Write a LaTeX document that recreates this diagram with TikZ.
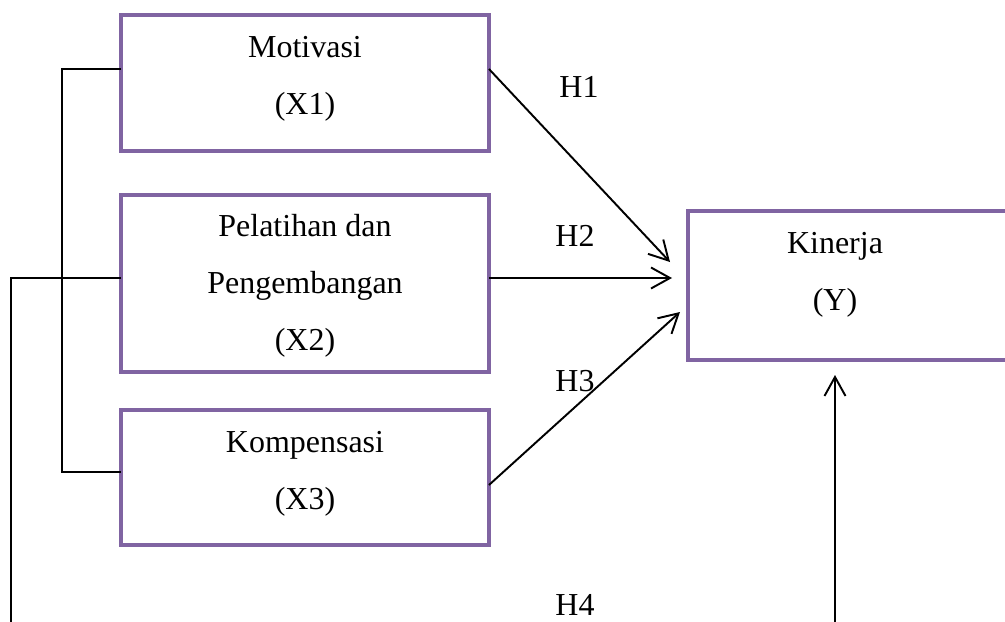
\documentclass[tikz,border=0pt]{standalone}
\usepackage{fontspec}
\setmainfont{Liberation Serif}
\usetikzlibrary{arrows.meta}
\definecolor{boxpurple}{HTML}{8064A2}

\begin{document}
\begin{tikzpicture}[x=0.02cm,y=-0.02cm,
		box/.style={draw=boxpurple, line width=2pt, minimum width=7.36cm, outer sep=0pt, align=center, font=\fontsize{18.2}{32.4}\selectfont, text depth=0.3cm},
		txt/.style={align=center, font=\fontsize{18.2}{32.4}\selectfont},
		link/.style={line width=1.1pt},
		arr/.style={line width=1.1pt, -{Straight Barb[length=0.38cm, width=0.42cm, line width=1.1pt]}}]
		\clip (0,0) rectangle (1005,622);
		\node (x1) at (305,83) [box, minimum height=2.72cm] {Motivasi\\(X1)};
		\node (x2) at (305,283.5) [box, minimum height=3.54cm, text depth=0.06cm] {Pelatihan dan\\Pengembangan\\(X2)};
		\node (x3) at (305,477.5) [box, minimum height=2.70cm] {Kompensasi\\(X3)};
		\node (y) at (858,285.5) [box, minimum width=6.8cm, minimum height=2.98cm] {};
		\node (yt) at (835,274.5) [txt] {Kinerja\\(Y)};
		
		\node (h1) at (579,87) [txt] {H1};
		\node (h2) at (575,236) [txt] {H2};
		\node (h3) at (575,381) [txt] {H3};
		\node (h4) at (575,605) [txt] {H4};
		
		\coordinate (k1) at (62,69);
		\coordinate (k3) at (62,472);
		\coordinate (l2) at (11,278);
		\coordinate (b1) at (11,622);
		\coordinate (b2) at (835,622);
		\coordinate (t1) at (670,262);
		\coordinate (t2) at (672,278);
		\coordinate (t3) at (680,312);
		\coordinate (t4) at (835,375);
		
		\draw[link] (x1.west |- k1) -- (k1) -- (k3) -- (x3.west |- k3);
		\draw[link] (x2.west |- l2) -- (l2) -- (b1);
		\draw[arr] (x1.east |- k1) -- (t1);
		\draw[arr] (x2.east |- t2) -- (t2);
		\draw[arr] ([shift={(0,7.5)}]x3.east) -- (t3);
		\draw[arr] (b2) -- (t4);
		
	\end{tikzpicture}
\end{document}
